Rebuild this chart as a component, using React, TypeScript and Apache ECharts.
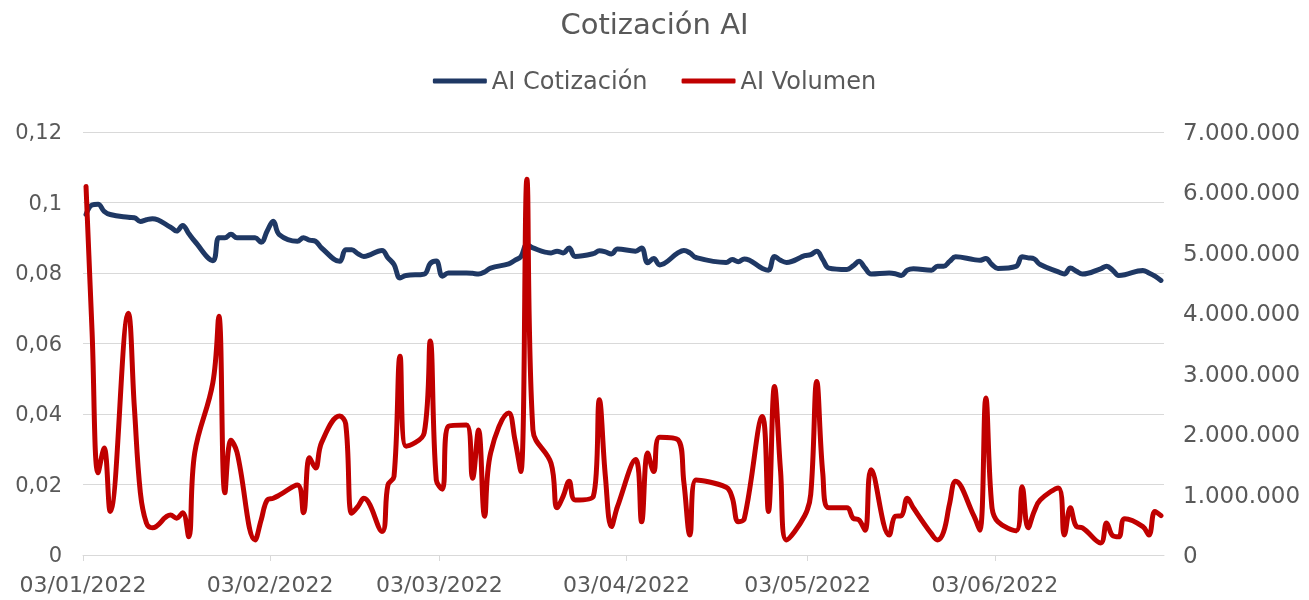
import React, { useEffect, useRef } from "react";
import * as echarts from "echarts";

// Trading days (day of month) per month, 2022
const janDays = [3, 4, 5, 6, 7, 10, 11, 12, 13, 14, 17, 18, 19, 20, 21, 24, 25, 26, 27, 28, 31];
const febDays = [1, 2, 3, 4, 7, 8, 9, 10, 11, 14, 15, 16, 17, 18, 21, 22, 23, 24, 25, 28];
const marDays = [1, 2, 3, 4, 7, 8, 9, 10, 11, 14, 15, 16, 17, 18, 21, 22, 23, 24, 25, 28, 29, 30, 31];
const aprDays = [1, 4, 5, 6, 7, 8, 11, 12, 13, 14, 19, 20, 21, 22, 25, 26, 27, 28, 29];
const mayDays = [2, 3, 4, 5, 6, 9, 10, 11, 12, 13, 16, 17, 18, 19, 20, 23, 24, 25, 26, 27, 30, 31];
const junDays = [1, 2, 3, 6, 7, 8, 9, 10, 13, 14, 15, 16, 17, 20, 21, 22, 23, 24, 27, 28, 29, 30];

const priceValues = [
  // Jan
  0.0966, 0.0993, 0.0995, 0.0975, 0.0966, 0.0958, 0.0957, 0.0946, 0.0951, 0.0954, 0.093, 0.0919, 0.0935, 0.0912, 0.089,
  0.0835, 0.09, 0.09, 0.091, 0.09, 0.09,
  // Feb
  0.0887, 0.0919, 0.0947, 0.0909, 0.089, 0.09, 0.0893, 0.089, 0.0871, 0.0833, 0.0866, 0.0866, 0.0855, 0.0847, 0.0864,
  0.0843, 0.0824, 0.0786, 0.0793, 0.0797,
  // Mar
  0.0827, 0.0834, 0.0791, 0.08, 0.08, 0.0799, 0.0797, 0.0803, 0.0814, 0.0826, 0.0836, 0.0846, 0.0881, 0.0871, 0.0857,
  0.0862, 0.0857, 0.0871, 0.0847, 0.0855, 0.0863, 0.086, 0.0854,
  // Apr
  0.0868, 0.0862, 0.0871, 0.0829, 0.0841, 0.0823, 0.0857, 0.0864, 0.0857, 0.0844, 0.083, 0.0838, 0.0832, 0.084, 0.0813,
  0.0808, 0.0847, 0.0836, 0.083,
  // May
  0.0849, 0.0852, 0.0862, 0.0838, 0.0814, 0.081, 0.082, 0.0833, 0.0814, 0.0797, 0.08, 0.0798, 0.0793, 0.0808, 0.0812,
  0.0808, 0.0819, 0.0819, 0.0833, 0.0846, 0.0838, 0.0836,
  // Jun
  0.0841, 0.0824, 0.0813, 0.0819, 0.0846, 0.0843, 0.084, 0.0824, 0.0803, 0.0797, 0.0814, 0.0805, 0.0797, 0.0812, 0.0819,
  0.0808, 0.0793, 0.0795, 0.0807, 0.08, 0.0791, 0.0779,
];

const volumeValues = [
  // Jan
  6100000, 3700000, 1360000, 1770000, 720000, 4000000, 2450000, 1030000, 530000, 450000, 660000, 610000, 700000, 300000,
  1690000, 2850000, 3950000, 1030000, 1900000, 1700000, 250000,
  // Feb
  580000, 910000, 940000, 990000, 1160000, 700000, 1610000, 1440000, 1860000, 2300000, 2170000, 690000, 800000, 940000,
  390000, 1160000, 1300000, 3290000, 1800000, 2020000,
  // Mar
  3540000, 1240000, 1090000, 2130000, 2150000, 1270000, 2070000, 640000, 1690000, 2350000, 1920000, 1380000, 6220000,
  2070000, 1520000, 780000, 970000, 1220000, 910000, 970000, 2570000, 1300000, 470000,
  // Apr
  800000, 1580000, 550000, 1690000, 1380000, 1950000, 1910000, 1200000, 330000, 1240000, 1120000, 950000, 550000, 600000,
  2290000, 720000, 2790000, 1400000, 250000,
  // May
  650000, 1000000, 2870000, 1350000, 780000, 780000, 610000, 580000, 410000, 1410000, 330000, 640000, 650000, 940000,
  780000, 350000, 250000, 380000, 850000, 1220000, 650000, 410000,
  // Jun
  2600000, 800000, 550000, 400000, 1130000, 450000, 720000, 910000, 1110000, 330000, 780000, 470000, 450000, 200000,
  530000, 320000, 300000, 600000, 470000, 330000, 720000, 650000,
];

const xTickLabels = ["03/01/2022", "03/02/2022", "03/03/2022", "03/04/2022", "03/05/2022", "03/06/2022"];
const leftTicks = [0, 0.02, 0.04, 0.06, 0.08, 0.1, 0.12];
const rightTicks = [0, 1000000, 2000000, 3000000, 4000000, 5000000, 6000000, 7000000];

const DAY = 86400000;
const BASE = Date.UTC(2022, 0, 3);
const END = Date.UTC(2022, 6, 1);

const monthLists: number[][] = [janDays, febDays, marDays, aprDays, mayDays, junDays];

function dayOffsets(): number[] {
  const out: number[] = [];
  monthLists.forEach((days, mi) => {
    days.forEach((d) => out.push((Date.UTC(2022, mi, d) - BASE) / DAY));
  });
  return out;
}

function parseLabel(s: string): number {
  const [d, m, y] = s.split("/").map(Number);
  return (Date.UTC(y, m - 1, d) - BASE) / DAY;
}

function fmtDate(v: number): string {
  const dt = new Date(BASE + Math.round(v) * DAY);
  const dd = String(dt.getUTCDate()).padStart(2, "0");
  const mm = String(dt.getUTCMonth() + 1).padStart(2, "0");
  return `${dd}/${mm}/${dt.getUTCFullYear()}`;
}

const FONT = "DejaVu Sans";
const TXT = "#595959";
const GRID = "#d9d9d9";

export default function App() {
  const ref = useRef<HTMLDivElement>(null);
  useEffect(() => {
    if (!ref.current) return;
    const chart = echarts.init(ref.current, undefined, { renderer: "svg" });
    const offs = dayOffsets();
    const tickDays = xTickLabels.map(parseLabel);
    const priceData = offs.map((o, i) => [o + 0.5, priceValues[i]]);
    const volData = offs.map((o, i) => [o + 0.5, volumeValues[i]]);

    chart.setOption({
      animation: false,
      title: {
        text: "Cotización AI",
        left: "center",
        top: 4,
        textStyle: { fontFamily: FONT, fontSize: 29, fontWeight: "normal", color: TXT },
      },
      legend: {
        top: 64,
        left: "center",
        itemWidth: 54,
        itemHeight: 5,
        itemGap: 34,
        icon: "roundRect",
        textStyle: { fontFamily: FONT, fontSize: 24, color: TXT },
        data: ["AI Cotización", "AI Volumen"],
      },
      grid: { left: 83, right: 145, top: 132, bottom: 45, containLabel: false },
      xAxis: {
        type: "value",
        min: 0,
        max: (END - BASE) / DAY,
        splitLine: { show: false },
        axisLine: { show: true, lineStyle: { color: GRID, width: 1 } },
        axisTick: { show: true, customValues: tickDays, length: 6, lineStyle: { color: GRID } },
        axisLabel: {
          customValues: tickDays,
          formatter: (v: number) => fmtDate(v),
          fontFamily: FONT,
          fontSize: 22,
          color: TXT,
          margin: 18,
        },
      },
      yAxis: [
        {
          type: "value",
          min: leftTicks[0],
          max: leftTicks[leftTicks.length - 1],
          interval: 0.02,
          axisLine: { show: false },
          axisTick: { show: false },
          splitLine: { show: true, lineStyle: { color: GRID, width: 1 } },
          axisLabel: {
            fontFamily: FONT,
            fontSize: 21,
            color: TXT,
            margin: 21,
            formatter: (v: number) => String(parseFloat(v.toFixed(2))).replace(".", ","),
          },
        },
        {
          type: "value",
          min: rightTicks[0],
          max: rightTicks[rightTicks.length - 1],
          interval: 1000000,
          axisLine: { show: false },
          axisTick: { show: false },
          splitLine: { show: false },
          axisLabel: {
            fontFamily: FONT,
            fontSize: 23,
            color: TXT,
            margin: 19,
            formatter: (v: number) => String(Math.round(v)).replace(/\B(?=(\d{3})+(?!\d))/g, "."),
          },
        },
      ],
      series: [
        {
          name: "AI Cotización",
          type: "line",
          yAxisIndex: 0,
          data: priceData,
          smooth: 0.4,
          showSymbol: false,
          symbol: "none",
          itemStyle: { color: "#1F3864" },
          lineStyle: { color: "#1F3864", width: 5, cap: "round", join: "round" },
        },
        {
          name: "AI Volumen",
          type: "line",
          yAxisIndex: 1,
          data: volData,
          smooth: 0.4,
          showSymbol: false,
          symbol: "none",
          itemStyle: { color: "#C00000" },
          lineStyle: { color: "#C00000", width: 5, cap: "round", join: "round" },
        },
      ],
    });
    return () => chart.dispose();
  }, []);
  return <div ref={ref} style={{ position: "fixed", left: 0, top: 0, width: 1309, height: 600 }} />;
}
